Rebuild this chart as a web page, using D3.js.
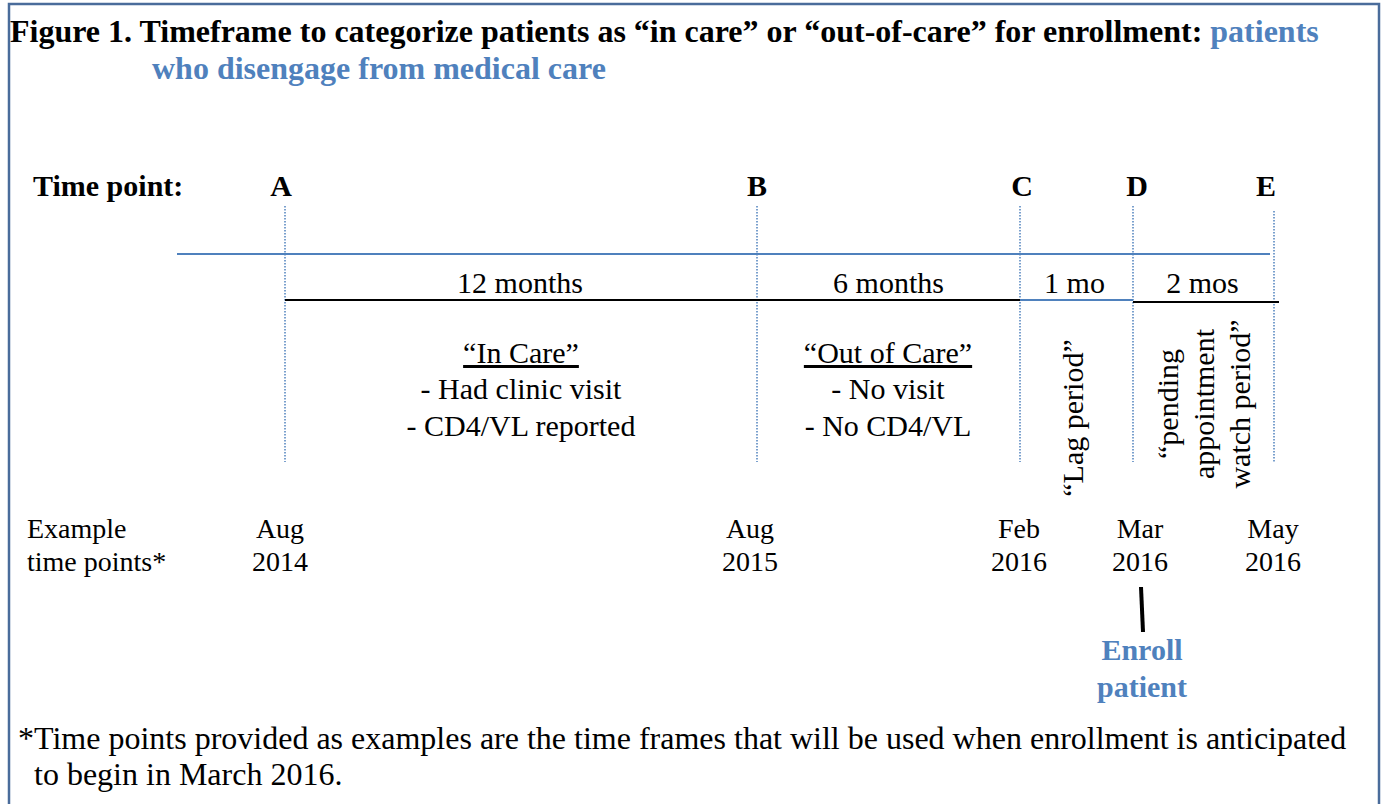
<!DOCTYPE html>
<html>
<head>
<meta charset="utf-8">
<script src="https://cdnjs.cloudflare.com/ajax/libs/d3/7.8.5/d3.min.js"></script>
<style>
  body { margin: 0; background: #fff; }
  svg text { font-family: "Liberation Serif", "Times New Roman", serif; }
</style>
</head>
<body>
<div id="fig"></div>
<script>
// time points along the timeline
var point_ids = ['A', 'B', 'C', 'D', 'E'];
var example_months = ['Aug', 'Aug', 'Feb', 'Mar', 'May'];
var example_years = ['2014', '2015', '2016', '2016', '2016'];

// periods between consecutive points
var period_labels = ['12 months', '6 months', '1 mo', '2 mos'];
var period_kind = ['black', 'black', 'blue', 'black'];

var incare_lines = ['- Had clinic visit', '- CD4/VL reported'];
var outcare_lines = ['- No visit', '- No CD4/VL'];
var lag_lines = ['\u201cLag period\u201d'];
var pending_lines = ['\u201cpending', 'appointment', 'watch period\u201d'];

var footnote = ['*Time points provided as examples are the time frames that will be used when enrollment is anticipated',
                'to begin in March 2016.'];

function draw_figure() {
    var width = 1382, height = 804,
        blue = '#4f81bd',
        border = '#4a6c9b';

    var svg = d3.select('#fig').append('svg')
        .attr('width', width)
        .attr('height', height);

    svg.append('rect')
        .attr('x', 9).attr('y', 4)
        .attr('width', 1370).attr('height', 820)
        .style('fill', 'none')
        .style('stroke', border)
        .style('stroke-width', 2.5);

    // title
    var title = svg.append('text')
        .attr('x', 10).attr('y', 42)
        .style('font-size', '32px')
        .style('font-weight', 'bold');
    title.append('tspan').text('Figure 1. Timeframe to categorize patients as \u201cin care\u201d or \u201cout-of-care\u201d for enrollment: ');
    title.append('tspan').style('fill', blue).text('patients');
    svg.append('text')
        .attr('x', 152).attr('y', 79)
        .style('font-size', '32px')
        .style('font-weight', 'bold')
        .style('fill', blue)
        .text('who disengage from medical care');

    // x position of each time point
    var x = d3.scaleOrdinal()
        .domain(point_ids)
        .range([285, 757, 1020, 1133, 1274]);

    svg.append('text')
        .attr('x', 33).attr('y', 196)
        .style('font-size', '30px').style('font-weight', 'bold')
        .text('Time point:');

    svg.selectAll('text.pid')
        .data(point_ids)
        .enter().append('text')
        .attr('class', 'pid')
        .attr('x', (d, i) => x(d) + [-4, 0, 2, 4, -8][i])
        .attr('y', 196)
        .attr('text-anchor', 'middle')
        .style('font-size', '30px').style('font-weight', 'bold')
        .text(d => d);

    // dotted guides
    svg.selectAll('line.guide')
        .data(point_ids)
        .enter().append('line')
        .attr('class', 'guide')
        .attr('x1', d => x(d)).attr('x2', d => x(d))
        .attr('y1', d => d == 'E' ? 211 : 206)
        .attr('y2', 462)
        .style('stroke', blue)
        .style('stroke-width', 1.5)
        .style('stroke-dasharray', '1.5,1.5');

    // blue reference line
    svg.append('line')
        .attr('x1', 177).attr('x2', 1270)
        .attr('y1', 254).attr('y2', 254)
        .style('stroke', blue).style('stroke-width', 2);

    // period segments
    var periods = period_labels.map((lab, i) => ({
        label: lab, kind: period_kind[i],
        x0: x(point_ids[i]), x1: x(point_ids[i + 1])
    }));

    svg.selectAll('line.period')
        .data(periods)
        .enter().append('line')
        .attr('class', 'period')
        .attr('x1', d => d.x0)
        .attr('x2', (d, i) => i == 3 ? d.x1 + 5 : d.x1)
        .attr('y1', (d, i) => i == 3 ? 302 : 300)
        .attr('y2', (d, i) => i == 3 ? 302 : 300)
        .style('stroke', d => d.kind == 'blue' ? blue : '#000')
        .style('stroke-width', 2.2);

    svg.selectAll('text.plab')
        .data(periods)
        .enter().append('text')
        .attr('class', 'plab')
        .attr('x', (d, i) => (d.x0 + d.x1) / 2 + [-1, 0, -2, -1][i])
        .attr('y', 293)
        .attr('text-anchor', 'middle')
        .style('font-size', '30px')
        .text(d => d.label);

    // status blocks
    function block(cx, head, lines) {
        svg.append('text')
            .attr('x', cx).attr('y', 363)
            .attr('text-anchor', 'middle')
            .style('font-size', '30px')
            .style('text-decoration', 'underline')
            .text(head);
        svg.selectAll(null)
            .data(lines)
            .enter().append('text')
            .attr('x', cx)
            .attr('y', (d, i) => 399 + i * 37)
            .attr('text-anchor', 'middle')
            .style('font-size', '30px')
            .text(d => d);
    }
    block(521, '\u201cIn Care\u201d', incare_lines);
    block(888, '\u201cOut of Care\u201d', outcare_lines);

    // rotated period names
    function vertical(cx, cy, lines) {
        var g = svg.append('g')
            .attr('transform', 'translate(' + cx + ',' + cy + ') rotate(-90)');
        var n = lines.length;
        g.selectAll('text')
            .data(lines)
            .enter().append('text')
            .attr('x', 0)
            .attr('y', (d, i) => (i - (n - 1) / 2) * 36 + 10)
            .attr('text-anchor', 'middle')
            .style('font-size', '30px')
            .text(d => d);
    }
    vertical(1073, 418, lag_lines);
    vertical(1204, 404, pending_lines);

    // example dates
    svg.append('text')
        .attr('x', 27).attr('y', 538)
        .style('font-size', '28px')
        .text('Example');
    svg.append('text')
        .attr('x', 27).attr('y', 571)
        .style('font-size', '28px')
        .text('time points*');

    var ex = svg.selectAll('g.ex')
        .data(point_ids)
        .enter().append('g')
        .attr('class', 'ex')
        .attr('transform', (d, i) => 'translate(' + (x(d) + [-5, -7, -1, 7, -1][i]) + ',0)');
    ex.append('text')
        .attr('y', 538).attr('text-anchor', 'middle')
        .style('font-size', '28px')
        .text((d, i) => example_months[i]);
    ex.append('text')
        .attr('y', 571).attr('text-anchor', 'middle')
        .style('font-size', '28px')
        .text((d, i) => example_years[i]);

    // enrollment marker
    var xe = x('D') + 8;
    svg.append('line')
        .attr('x1', xe).attr('y1', 587)
        .attr('x2', xe + 2).attr('y2', 632)
        .style('stroke', '#000').style('stroke-width', 4);
    svg.selectAll('text.enroll')
        .data(['Enroll', 'patient'])
        .enter().append('text')
        .attr('class', 'enroll')
        .attr('x', xe + 1)
        .attr('y', (d, i) => 660 + i * 37)
        .attr('text-anchor', 'middle')
        .style('font-size', '30px').style('font-weight', 'bold')
        .style('fill', blue)
        .text(d => d);

    // footnote
    svg.selectAll('text.foot')
        .data(footnote)
        .enter().append('text')
        .attr('class', 'foot')
        .attr('x', (d, i) => i == 0 ? 18 : 34)
        .attr('y', (d, i) => 749 + i * 36)
        .style('font-size', '32px')
        .text(d => d);
}

draw_figure();
</script>
</body>
</html>
